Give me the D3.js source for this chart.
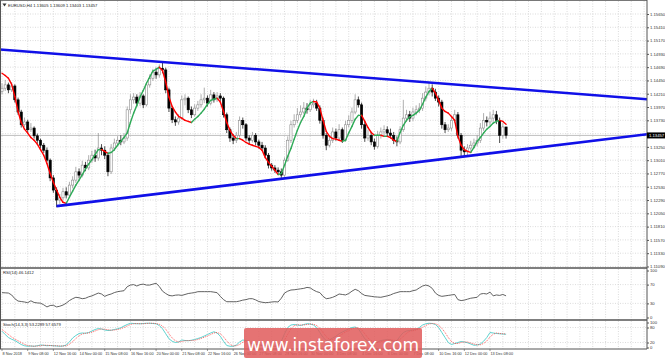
<!DOCTYPE html>
<html>
<head>
<meta charset="utf-8">
<script src="https://cdn.jsdelivr.net/npm/d3@7"></script>
<style>
  body { margin: 0; background: #fff; }
  svg { display: block; font-family: "Liberation Sans", "DejaVu Sans", sans-serif; }
</style>
</head>
<body>
<div id="wrapper"></div>
<script>
// EURUSD H4 - symmetrical triangle

const header = "EURUSD,H4  1.13605 1.13609 1.13403 1.13457";
const rsiTitle = "RSI(14) 46.1412";
const stochTitle = "Stoch(14,3,3) 53.2289 57.6579";
const lastPrice = 1.13457;
const firstOpen = 1.1425;

const close = [
  1.1431,1.1437,1.1428,1.1435,1.1410,1.1388,1.1365,1.1370,1.1356,1.1359,
  1.1345,1.1337,1.1328,1.1319,1.1301,1.1269,1.1247,1.1229,1.1233,1.1244,
  1.1238,1.1256,1.1265,1.1280,1.1274,1.1292,1.1287,1.1301,1.1310,1.1305,
  1.1323,1.1319,1.1310,1.1280,1.1323,1.1332,1.1337,1.1334,1.1341,1.1392,
  1.1410,1.1415,1.1404,1.1417,1.1401,1.1437,1.1449,1.1460,1.1455,1.1467,
  1.1464,1.1428,1.1395,1.1374,1.1370,1.1377,1.1410,1.1413,1.1392,1.1383,
  1.1395,1.1401,1.1410,1.1413,1.1404,1.1419,1.1410,1.1417,1.1413,1.1383,
  1.1356,1.1341,1.1337,1.1346,1.1373,1.1365,1.1341,1.1337,1.1346,1.1334,
  1.1328,1.1323,1.1310,1.1292,1.1287,1.1283,1.1280,1.1274,1.1301,1.1337,
  1.1365,1.1373,1.1383,1.1388,1.1395,1.1392,1.1401,1.1404,1.1395,1.1373,
  1.1346,1.1328,1.1337,1.1352,1.1341,1.1356,1.1337,1.1365,1.1373,1.1388,
  1.1410,1.1401,1.1365,1.1341,1.1346,1.1334,1.1326,1.1346,1.1352,1.1356,
  1.1350,1.1346,1.1337,1.1334,1.1356,1.1377,1.1383,1.1377,1.1388,1.1392,
  1.1395,1.1413,1.1424,1.1431,1.1424,1.1413,1.1406,1.1365,1.1356,1.1359,
  1.1373,1.1383,1.1346,1.1319,1.1316,1.1323,1.1328,1.1332,1.1337,1.1359,
  1.1373,1.1370,1.1377,1.1383,1.1373,1.1346,1.1361,1.1346
];

const high = [
  1.1440,1.1446,1.1441,1.1442,1.1438,1.1414,1.1392,1.1378,1.1374,1.1368,
  1.1362,1.1349,1.1340,1.1332,1.1324,1.1304,1.1274,1.1252,1.1240,1.1251,
  1.1252,1.1262,1.1272,1.1289,1.1286,1.1300,1.1298,1.1310,1.1318,1.1320,
  1.1350,1.1330,1.1326,1.1316,1.1330,1.1340,1.1344,1.1346,1.1350,1.1398,
  1.1420,1.1422,1.1420,1.1424,1.1420,1.1442,1.1456,1.1466,1.1468,1.1474,
  1.1478,1.1468,1.1432,1.1398,1.1380,1.1384,1.1418,1.1420,1.1416,1.1398,
  1.1402,1.1408,1.1420,1.1432,1.1418,1.1428,1.1424,1.1424,1.1422,1.1416,
  1.1387,1.1360,1.1348,1.1352,1.1380,1.1378,1.1368,1.1346,1.1352,1.1350,
  1.1338,1.1334,1.1328,1.1314,1.1296,1.1292,1.1288,1.1286,1.1306,1.1344,
  1.1372,1.1384,1.1395,1.1400,1.1406,1.1404,1.1410,1.1412,1.1410,1.1400,
  1.1378,1.1350,1.1345,1.1360,1.1358,1.1366,1.1360,1.1372,1.1382,1.1396,
  1.1420,1.1416,1.1405,1.1370,1.1356,1.1352,1.1340,1.1354,1.1360,1.1364,
  1.1362,1.1358,1.1352,1.1344,1.1362,1.1410,1.1392,1.1390,1.1396,1.1400,
  1.1404,1.1422,1.1434,1.1442,1.1438,1.1430,1.1418,1.1410,1.1370,1.1366,
  1.1380,1.1392,1.1388,1.1350,1.1326,1.1330,1.1336,1.1340,1.1346,1.1368,
  1.1386,1.1380,1.1388,1.1392,1.1390,1.1378,1.1368,1.1361
];

const low = [
  1.1420,1.1426,1.1422,1.1424,1.1405,1.1383,1.1360,1.1361,1.1350,1.1352,
  1.1340,1.1331,1.1322,1.1314,1.1297,1.1263,1.1242,1.1216,1.1222,1.1228,
  1.1232,1.1234,1.1250,1.1260,1.1268,1.1270,1.1281,1.1283,1.1296,1.1298,
  1.1300,1.1310,1.1303,1.1272,1.1276,1.1318,1.1326,1.1328,1.1330,1.1336,
  1.1385,1.1403,1.1398,1.1399,1.1395,1.1398,1.1432,1.1444,1.1448,1.1450,
  1.1458,1.1422,1.1388,1.1368,1.1363,1.1365,1.1374,1.1400,1.1386,1.1377,
  1.1380,1.1390,1.1396,1.1404,1.1398,1.1400,1.1405,1.1406,1.1407,1.1378,
  1.1350,1.1334,1.1330,1.1332,1.1342,1.1358,1.1336,1.1330,1.1333,1.1328,
  1.1322,1.1318,1.1304,1.1286,1.1282,1.1278,1.1275,1.1269,1.1271,1.1298,
  1.1332,1.1360,1.1368,1.1378,1.1384,1.1385,1.1388,1.1396,1.1390,1.1367,
  1.1340,1.1319,1.1324,1.1332,1.1336,1.1338,1.1332,1.1334,1.1360,1.1368,
  1.1384,1.1396,1.1358,1.1334,1.1336,1.1328,1.1320,1.1322,1.1340,1.1346,
  1.1344,1.1340,1.1330,1.1326,1.1330,1.1352,1.1370,1.1370,1.1372,1.1382,
  1.1386,1.1390,1.1408,1.1418,1.1416,1.1408,1.1398,1.1358,1.1350,1.1352,
  1.1354,1.1368,1.1340,1.1306,1.1308,1.1310,1.1318,1.1322,1.1326,1.1332,
  1.1354,1.1362,1.1364,1.1370,1.1366,1.1332,1.1340,1.1340
];

// moving average (red falling / green rising)
const ma = [
  1.1458,1.1454,1.1449,1.1438,1.1416,1.1389,1.1369,1.1357,1.1350,1.1342,
  1.1337,1.1330,1.1320,1.1310,1.1295,1.1277,1.1261,1.1247,1.1234,1.1225,
  1.1223,1.1234,1.1245,1.1256,1.1265,1.1275,1.1285,1.1294,1.1302,1.1311,
  1.1320,1.1320,1.1317,1.1313,1.1315,1.1320,1.1328,1.1335,1.1342,1.1350,
  1.1369,1.1386,1.1400,1.1415,1.1427,1.1440,1.1451,1.1462,1.1465,1.1469,
  1.1463,1.1442,1.1415,1.1398,1.1388,1.1380,1.1377,1.1373,1.1371,1.1369,
  1.1375,1.1380,1.1386,1.1393,1.1402,1.1409,1.1411,1.1413,1.1406,1.1389,
  1.1369,1.1355,1.1346,1.1340,1.1340,1.1337,1.1333,1.1330,1.1328,1.1326,
  1.1324,1.1319,1.1306,1.1297,1.1290,1.1283,1.1275,1.1277,1.1292,1.1308,
  1.1322,1.1339,1.1355,1.1369,1.1380,1.1395,1.1404,1.1407,1.1406,1.1395,
  1.1373,1.1353,1.1344,1.1340,1.1339,1.1337,1.1335,1.1337,1.1350,1.1362,
  1.1375,1.1382,1.1382,1.1371,1.1360,1.1351,1.1346,1.1346,1.1346,1.1344,
  1.1344,1.1342,1.1337,1.1335,1.1351,1.1364,1.1373,1.1379,1.1382,1.1386,
  1.1391,1.1402,1.1415,1.1425,1.1431,1.1422,1.1409,1.1395,1.1389,1.1386,
  1.1380,1.1373,1.1344,1.1328,1.1320,1.1317,1.1315,1.1324,1.1335,1.1342,
  1.1350,1.1357,1.1362,1.1368,1.1371,1.1373,1.1371,1.1366
];

const rsi = [
  52.8,52.5,52,48,40,35,34,33,31.5,35.5,
  32,31,30.5,27,22.5,25.5,26,22.5,24,26.5,
  30.5,36,40,43,42,40,41,44,46,49,
  52,50,45,48,50,53,55,56,57,65.5,
  69,70,67,70,71,69,69,71,72.8,66,
  56,51,47,46,47.5,48,47,49,51,52,
  53,54.9,55,55,55,55,54,52.8,45,38,
  33.6,33.6,33.6,33.6,35,37,38,40,40,37.5,
  34,32.5,31.5,32,33,33.6,33,41,52,56,
  58.5,59,60,61,62,64,63,58.5,55,53,
  45,40,41,43,46,50,49,48,51,56,
  60,57,51,47,46,45,44,43.5,43,44.5,
  46,48,51,53,55,55,55,55,57,58.5,
  63,67,69,67,62,52,47,45,46,47,
  48,49,38,36,37,39,41,42,43,50,
  51,50,54,46,48,47,49,46.1
];

const stochMain = [
  65,52,40,33,28,20,12,7,5,6,
  5,7,10,9,7,8,7,6,5,6,
  10,22,38,48,56,58,57,60,66,72,
  76,74,70,68,69,72,75,79,86,92,
  97,96,95,95,96,97,97,96,95,88,
  75,55,35,25,20,22,30,28,27,29,
  32,36,40,46,52,58,63,58,45,25,
  8,5,5,10,22,30,28,20,15,12,
  10,8,6,5,6,5,8,25,55,80,
  90,92,90,88,92,95,94,90,80,60,
  40,28,30,38,45,55,62,68,75,80,
  82,75,55,35,25,20,18,22,28,30,
  32,30,25,28,45,60,66,68,70,72,
  80,90,95,97,96,92,80,60,40,20,
  12,16,20,24,22,19,14,9,10,14,
  25,40,60,58,56,55,54,53
];

const stochSignal = [
  72,62,52,42,34,27,20,13,8,6,
  5,6,7,9,9,8,7,7,6,6,
  7,13,23,36,47,54,57,58,61,66,
  71,74,73,71,69,70,72,75,80,86,
  92,95,96,95,95,96,97,97,96,93,
  86,73,55,38,27,22,24,27,28,28,
  29,32,36,41,46,52,58,60,55,43,
  26,13,6,7,12,21,27,26,21,16,
  12,10,8,6,6,5,6,13,29,53,
  75,87,91,90,90,92,94,93,88,77,
  60,43,33,32,38,46,54,62,68,75,
  79,79,71,55,38,27,21,20,23,27,
  30,31,29,28,33,44,57,65,68,70,
  74,81,88,94,96,95,89,77,60,40,
  24,16,16,20,22,22,18,14,11,11,
  16,26,42,53,58,56,55,54
];

// time labels: bar index + text
const timeBars = [0,8,16,24,32,40,48,56,64,72,80,88,96,104,112,120,128,136,144,152];
const timeLabels = ["8 Nov 2018","9 Nov 08:00","12 Nov 16:00","14 Nov 00:00","15 Nov 08:00",
  "16 Nov 16:00","20 Nov 00:00","21 Nov 08:00","22 Nov 16:00","26 Nov 00:00",
  "27 Nov 08:00","28 Nov 16:00","30 Nov 00:00","3 Dec 08:00","4 Dec 16:00",
  "6 Dec 00:00","7 Dec 08:00","10 Dec 16:00","12 Dec 00:00","13 Dec 08:00"];

const priceTicks = [1.11090,1.11330,1.11570,1.11810,1.12050,1.12290,1.12530,1.12770,1.13010,1.13250,
  1.13730,1.13970,1.14210,1.14450,1.14690,1.14930,1.15170,1.15410,1.15650];
const rsiTicks = [100, 70, 30, 0];
const rsiLevels = [70, 30];
const stochTicks = [100, 80, 20, 0];
const stochLevels = [80, 20];

// triangle lines: [bar, price] end points
const upperLine = [[-1, 1.1501], [201, 1.1411]];
const lowerLine = [[17, 1.1218], [201, 1.1348]];

function drawChart() {
  const dimensions = {
    width: 665,
    height: 358,
    axisX: 647,
    main: { top: 1, bottom: 268 },
    rsi: { top: 269, bottom: 320 },
    stoch: { top: 321, bottom: 349 },
  };

  const svg = d3.select("#wrapper").append("svg")
    .attr("width", dimensions.width)
    .attr("height", dimensions.height);

  const xScale = d3.scaleLinear().domain([0, 152]).range([2, 490]);
  const yScale = d3.scaleLinear().domain([1.1349, 1.1565]).range([133.6, 14]);
  const rsiScale = d3.scaleLinear().domain([0, 100]).range([317.5, 270.5]);
  const stochScale = d3.scaleLinear().domain([0, 100]).range([347.5, 322.5]);

  svg.append("defs").append("clipPath").attr("id", "clipMain")
    .append("rect").attr("x", 0).attr("y", dimensions.main.top)
    .attr("width", dimensions.axisX).attr("height", dimensions.main.bottom - dimensions.main.top);

  const gridColor = "#c4c4c4";

  // vertical grid, every 4 bars, in all panels
  const gridBars = d3.range(0, 202, 4);
  [dimensions.main, dimensions.rsi, dimensions.stoch].forEach(p => {
    svg.append("g").selectAll("line").data(gridBars).join("line")
      .attr("x1", d => xScale(d)).attr("x2", d => xScale(d))
      .attr("y1", p.top).attr("y2", p.bottom)
      .attr("stroke", gridColor).attr("stroke-width", 0.6)
      .attr("stroke-dasharray", "1,1.5");
  });

  // horizontal grid in main panel
  svg.append("g").selectAll("line").data(priceTicks.concat([1.13490])).join("line")
    .attr("x1", 0).attr("x2", dimensions.axisX)
    .attr("y1", d => yScale(d)).attr("y2", d => yScale(d))
    .attr("stroke", gridColor).attr("stroke-width", 0.6)
    .attr("stroke-dasharray", "1,1.5");

  svg.append("g").selectAll("line").data(rsiLevels).join("line")
    .attr("x1", 0).attr("x2", dimensions.axisX)
    .attr("y1", d => rsiScale(d)).attr("y2", d => rsiScale(d))
    .attr("stroke", gridColor).attr("stroke-width", 0.6)
    .attr("stroke-dasharray", "1,1.5");

  svg.append("g").selectAll("line").data(stochLevels).join("line")
    .attr("x1", 0).attr("x2", dimensions.axisX)
    .attr("y1", d => stochScale(d)).attr("y2", d => stochScale(d))
    .attr("stroke", gridColor).attr("stroke-width", 0.6)
    .attr("stroke-dasharray", "1,1.5");

  // last price line
  svg.append("line")
    .attr("x1", 0).attr("x2", dimensions.axisX)
    .attr("y1", yScale(lastPrice)).attr("y2", yScale(lastPrice))
    .attr("stroke", "#b0b0b0").attr("stroke-width", 0.8);

  // candles
  const bars = close.map((c, i) => ({
    i, o: i === 0 ? firstOpen : close[i - 1], h: high[i], l: low[i], c
  }));
  const candles = svg.append("g").attr("clip-path", "url(#clipMain)");
  candles.selectAll("line").data(bars).join("line")
    .attr("x1", d => xScale(d.i)).attr("x2", d => xScale(d.i))
    .attr("y1", d => yScale(d.h)).attr("y2", d => yScale(d.l))
    .attr("stroke", d => d.c >= d.o ? "#8c8c8c" : "#000")
    .attr("stroke-width", 0.7);
  candles.selectAll("rect").data(bars).join("rect")
    .attr("x", d => xScale(d.i) - 1.1)
    .attr("width", 2.2)
    .attr("y", d => yScale(Math.max(d.o, d.c)))
    .attr("height", d => Math.max(0.7, Math.abs(yScale(d.o) - yScale(d.c))))
    .attr("fill", d => d.c >= d.o ? "#fff" : "#000")
    .attr("stroke", d => d.c >= d.o ? "#8c8c8c" : "#000")
    .attr("stroke-width", 0.6);

  // moving average, coloured by direction
  const maGroup = svg.append("g");
  for (let i = 1; i < ma.length; i++) {
    maGroup.append("line")
      .attr("x1", xScale(i - 1)).attr("y1", yScale(ma[i - 1]))
      .attr("x2", xScale(i)).attr("y2", yScale(ma[i]))
      .attr("stroke", ma[i] < ma[i - 1] ? "#ff0000" : "#2eaa57")
      .attr("stroke-width", 1.4)
      .attr("stroke-linecap", "round");
  }

  // triangle
  const trend = d3.line().x(d => xScale(d[0])).y(d => yScale(d[1]));
  const trendGroup = svg.append("g").attr("clip-path", "url(#clipMain)");
  [upperLine, lowerLine].forEach(l => {
    trendGroup.append("path").attr("d", trend(l))
      .attr("fill", "none").attr("stroke", "#1010e8").attr("stroke-width", 2.6);
  });

  // RSI
  svg.append("path")
    .attr("d", d3.line().x((d, i) => xScale(i)).y(d => rsiScale(d))(rsi))
    .attr("fill", "none").attr("stroke", "#505050").attr("stroke-width", 0.9);

  // stochastic
  svg.append("path")
    .attr("d", d3.line().x((d, i) => xScale(i)).y(d => stochScale(d))(stochMain))
    .attr("fill", "none").attr("stroke", "#5fd3d0").attr("stroke-width", 1);
  svg.append("path")
    .attr("d", d3.line().x((d, i) => xScale(i)).y(d => stochScale(d))(stochSignal))
    .attr("fill", "none").attr("stroke", "#ff3b3b").attr("stroke-width", 0.8)
    .attr("stroke-dasharray", "1,1");

  // frames and separators
  const frame = svg.append("g").attr("stroke", "#555").attr("fill", "none");
  frame.append("line").attr("x1", 0.5).attr("x2", 0.5).attr("y1", 0).attr("y2", dimensions.stoch.bottom)
    .attr("stroke-width", 1);
  frame.append("line").attr("x1", dimensions.axisX).attr("x2", dimensions.axisX).attr("y1", 0).attr("y2", dimensions.stoch.bottom)
    .attr("stroke-width", 1);
  frame.append("line").attr("x1", 0).attr("x2", dimensions.axisX).attr("y1", 0.5).attr("y2", 0.5).attr("stroke-width", 0.8);
  [dimensions.main.bottom, dimensions.rsi.bottom, dimensions.stoch.bottom].forEach(y => {
    frame.append("line").attr("x1", 0).attr("x2", dimensions.axisX).attr("y1", y).attr("y2", y)
      .attr("stroke-width", y === dimensions.stoch.bottom ? 1 : 1.6);
  });

  // right axes
  const axisFont = "4.2px";
  const timeFont = "3.8px";
  const priceAxis = d3.axisRight(yScale).tickValues(priceTicks).tickSize(2).tickPadding(1)
    .tickFormat(d3.format(".5f"));
  svg.append("g").attr("transform", `translate(${dimensions.axisX},0)`).call(priceAxis)
    .call(g => g.select(".domain").remove())
    .call(g => g.selectAll("text").style("font-size", axisFont).attr("fill", "#333"))
    .call(g => g.selectAll("line").attr("stroke", "#555"));

  const rsiAxis = d3.axisRight(rsiScale).tickValues(rsiTicks).tickSize(2).tickPadding(1);
  svg.append("g").attr("transform", `translate(${dimensions.axisX},0)`).call(rsiAxis)
    .call(g => g.select(".domain").remove())
    .call(g => g.selectAll("text").style("font-size", axisFont).attr("fill", "#333"))
    .call(g => g.selectAll("line").attr("stroke", "#555"));

  const stochAxis = d3.axisRight(stochScale).tickValues(stochTicks).tickSize(2).tickPadding(1);
  svg.append("g").attr("transform", `translate(${dimensions.axisX},0)`).call(stochAxis)
    .call(g => g.select(".domain").remove())
    .call(g => g.selectAll("text").style("font-size", axisFont).attr("fill", "#333"))
    .call(g => g.selectAll("line").attr("stroke", "#555"));

  // last price box
  svg.append("rect")
    .attr("x", dimensions.axisX).attr("y", yScale(lastPrice) - 3)
    .attr("width", 18).attr("height", 6).attr("fill", "#000");
  svg.append("text")
    .attr("x", dimensions.axisX + 2).attr("y", yScale(lastPrice) + 1.5)
    .attr("fill", "#fff").style("font-size", axisFont)
    .text(d3.format(".5f")(lastPrice));

  // time axis
  const timeAxis = svg.append("g").attr("transform", `translate(0,${dimensions.stoch.bottom})`);
  timeAxis.selectAll("line").data(timeBars).join("line")
    .attr("x1", d => xScale(d)).attr("x2", d => xScale(d))
    .attr("y1", 0).attr("y2", 2).attr("stroke", "#555").attr("stroke-width", 0.6);
  timeAxis.selectAll("text").data(timeBars).join("text")
    .attr("x", d => xScale(d) + 0.5).attr("y", 6)
    .style("font-size", timeFont).attr("fill", "#333")
    .text((d, i) => timeLabels[i]);

  // titles
  svg.append("path").attr("d", "M2.5,3.5 L6.5,3.5 L4.5,6.5 Z").attr("fill", "#333");
  svg.append("text").attr("x", 8).attr("y", 6.5).style("font-size", axisFont).attr("fill", "#222").text(header);
  svg.append("text").attr("x", 3).attr("y", dimensions.rsi.top + 5).style("font-size", axisFont).attr("fill", "#222").text(rsiTitle);
  svg.append("text").attr("x", 3).attr("y", dimensions.stoch.top + 5).style("font-size", axisFont).attr("fill", "#222").text(stochTitle);

  // watermark
  svg.append("rect")
    .attr("x", 244).attr("y", 328).attr("width", 178).attr("height", 30)
    .attr("rx", 2).attr("fill", "#e05a5a").attr("opacity", 0.85);
  svg.append("text")
    .attr("x", 333).attr("y", 351)
    .attr("text-anchor", "middle")
    .style("font-size", "17px")
    .style("font-family", "'DejaVu Sans', sans-serif")
    .attr("fill", "#fff")
    .text("www.instaforex.com");
}

drawChart();
</script>
</body>
</html>
